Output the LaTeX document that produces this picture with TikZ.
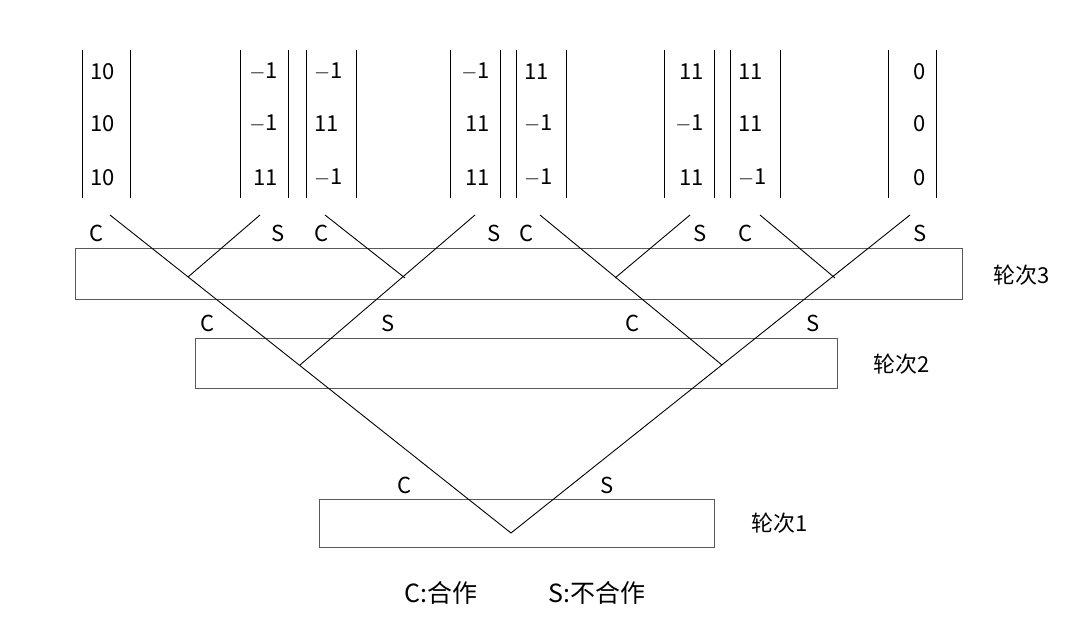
\documentclass[tikz,border=0pt]{standalone}
\usepackage{fontspec}
\setmainfont{Noto Sans CJK SC}
\begin{document}
\begin{tikzpicture}[x=1pt,y=-1pt,
  box/.style={draw=black!65,line width=0.9pt},
  ln/.style={line width=0.9pt},
  lab/.style={font=\fontsize{22}{24}\selectfont,inner sep=0pt},
  vr/.style={font=\fontsize{22}{24}\selectfont,inner sep=0pt,anchor=east},
  vl/.style={font=\fontsize{22}{24}\selectfont,inner sep=0pt,anchor=west}]
\useasboundingbox (0,0) rectangle (1080,642);
% boxes
\draw[box] (75,248) rectangle (962,299);
\draw[box] (195,338) rectangle (837,388);
\draw[box] (319,499) rectangle (714,547);
\node[lab] (r3) at (1022,275) {轮次3};
\node[lab] (r2) at (902,364) {轮次2};
\node[lab] (r1) at (780,523) {轮次1};
% tree coordinates
\coordinate (R) at (511,533);
\coordinate (t1) at (110,215); \coordinate (t2) at (260,215);
\coordinate (t3) at (325,215); \coordinate (t4) at (475,215);
\coordinate (t5) at (540,215); \coordinate (t6) at (690,215);
\coordinate (t7) at (760,215); \coordinate (t8) at (910,215);
\coordinate (L2) at (300,365); \coordinate (R2) at (722,365);
\coordinate (a3) at (188,277); \coordinate (b3) at (405,278);
\coordinate (c3) at (615,278); \coordinate (d3) at (835,278);
\draw[ln] (t1) -- (R) -- (t8);
\draw[ln] (L2) -- (t4);
\draw[ln] (R2) -- (t5);
\draw[ln] (a3) -- (t2);
\draw[ln] (b3) -- (t3);
\draw[ln] (c3) -- (t6);
\draw[ln] (d3) -- (t7);
% labels
\foreach \n/\x/\t in {c1/97/C,s1/278/S,c2/322/C,s2/494/S,c3l/527/C,s3/700/S,c4/746/C,s4/920/S}
  \node[lab] (\n) at (\x,233) {\t};
\foreach \n/\x/\t in {c21/208/C,s21/388/S,c22/633/C,s22/813/S}
  \node[lab] (\n) at (\x,323) {\t};
\node[lab] (c11) at (405,485) {C};
\node[lab] (s11) at (607,485) {S};
% payoff columns
\foreach \i/\l/\r/\a/\b/\c in {1/82/130/10/10/10, 3/306/356/$-$1/11/$-$1, 5/516/566/11/$-$1/$-$1, 7/730/780/11/11/$-$1}{
  \draw[ln] (\l,50) -- (\l,198);
  \draw[ln] (\r,50) -- (\r,198);
  \node[vl] (p\i a) at (\l+8,72) {\a};
  \node[vl] (p\i b) at (\l+8,124) {\b};
  \node[vl] (p\i c) at (\l+8,178) {\c};
}
\foreach \i/\l/\r/\a/\b/\c in {2/240/288/$-$1/$-$1/11, 4/450/500/$-$1/11/11, 6/664/714/11/$-$1/11, 8/888/936/0/0/0}{
  \draw[ln] (\l,50) -- (\l,198);
  \draw[ln] (\r,50) -- (\r,198);
  \node[vr] (p\i a) at (\r-10,72) {\a};
  \node[vr] (p\i b) at (\r-10,124) {\b};
  \node[vr] (p\i c) at (\r-10,178) {\c};
}
\node[lab,font=\fontsize{25}{28}\selectfont] (leg1) at (441,593) {C:合作};
\node[lab,font=\fontsize{25}{28}\selectfont] (leg2) at (597,593) {S:不合作};
\end{tikzpicture}
\end{document}
